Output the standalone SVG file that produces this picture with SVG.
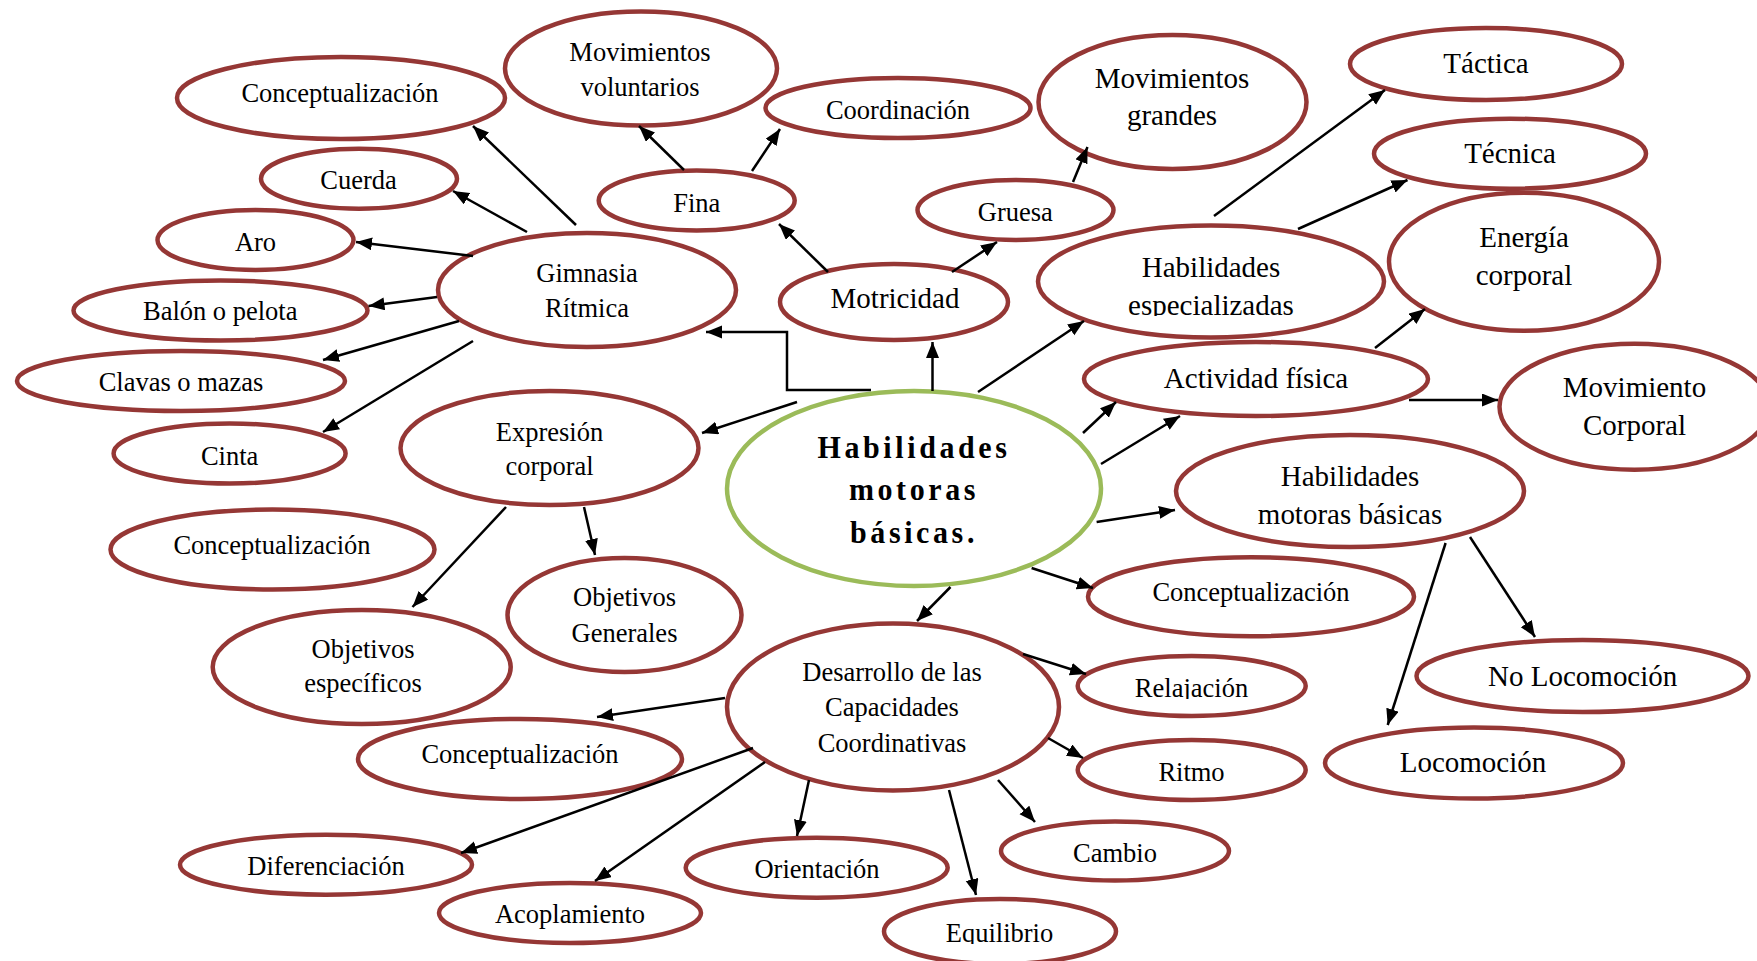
<svg xmlns="http://www.w3.org/2000/svg" width="1757" height="961" viewBox="0 0 1757 961">
  <style>
    .node { fill: #ffffff; stroke: #953735; stroke-width: 4.5; }
    .core { fill: #ffffff; stroke: #9bbb59; stroke-width: 4.5; }
    .t { font-family: "Liberation Serif", "Times New Roman", serif; font-size: 26.5px; fill: #000000; text-anchor: middle; }
    .big { font-size: 29px; }
    .bold { font-weight: bold; font-size: 30px; letter-spacing: 3.6px; }
    .edge { fill: none; stroke: #000000; stroke-width: 2.5; marker-end: url(#arrow); }
  </style>
  <defs>
    <marker id="arrow" markerUnits="userSpaceOnUse" markerWidth="17" markerHeight="14" refX="16" refY="6.5" orient="auto">
      <path d="M0,0 L16,6.5 L0,13 Z" fill="#000000"/>
    </marker>
    <!-- text boxes that cut off the descenders of their last line -->
    <clipPath id="clip-esp" clipPathUnits="userSpaceOnUse"><rect x="1040" y="220" width="345" height="96"/></clipPath>
    <clipPath id="clip-rel" clipPathUnits="userSpaceOnUse"><rect x="1075" y="650" width="235" height="49"/></clipPath>
    <clipPath id="clip-equ" clipPathUnits="userSpaceOnUse"><rect x="882" y="895" width="236" height="49"/></clipPath>
  </defs>
  <rect width="1757" height="961" fill="#ffffff"/>

  <!-- each label is placed at its baseline and drawn slightly tall -->
  <g id="n-concept-1"><ellipse class="node" cx="341" cy="98" rx="164" ry="41"/><text class="t" transform="translate(340 102) scale(1 1.05)">Conceptualización</text></g>
  <g id="n-mov-voluntarios"><ellipse class="node" cx="641" cy="68.5" rx="136" ry="57"/><text class="t" transform="translate(640 61) scale(1 1.05)">Movimientos</text><text class="t" transform="translate(640 96) scale(1 1.05)">voluntarios</text></g>
  <g id="n-coordinacion"><ellipse class="node" cx="898" cy="108" rx="132.5" ry="30"/><text class="t" transform="translate(898 119) scale(1 1.05)">Coordinación</text></g>
  <g id="n-mov-grandes"><ellipse class="node" cx="1172.5" cy="102" rx="134" ry="67"/><text class="t big" transform="translate(1172 88) scale(1 1.05)">Movimientos</text><text class="t big" transform="translate(1172 125) scale(1 1.05)">grandes</text></g>
  <g id="n-tactica"><ellipse class="node" cx="1486" cy="64" rx="136" ry="36"/><text class="t big" transform="translate(1486 73) scale(1 1.05)">Táctica</text></g>
  <g id="n-tecnica"><ellipse class="node" cx="1510" cy="153.7" rx="136" ry="35"/><text class="t big" transform="translate(1510 162.7) scale(1 1.05)">Técnica</text></g>
  <g id="n-energia"><ellipse class="node" cx="1524" cy="261.7" rx="135" ry="69"/><text class="t big" transform="translate(1524 246.7) scale(1 1.05)">Energía</text><text class="t big" transform="translate(1524 285) scale(1 1.05)">corporal</text></g>
  <g id="n-cuerda"><ellipse class="node" cx="359" cy="178.7" rx="98" ry="30"/><text class="t" transform="translate(358.5 189.3) scale(1 1.05)">Cuerda</text></g>
  <g id="n-aro"><ellipse class="node" cx="255.5" cy="240" rx="98" ry="30"/><text class="t" transform="translate(255.5 250.7) scale(1 1.05)">Aro</text></g>
  <g id="n-fina"><ellipse class="node" cx="696.7" cy="200.5" rx="98" ry="30"/><text class="t" transform="translate(696.7 211.7) scale(1 1.05)">Fina</text></g>
  <g id="n-gruesa"><ellipse class="node" cx="1015.5" cy="210" rx="98" ry="30"/><text class="t" transform="translate(1015.3 220.7) scale(1 1.05)">Gruesa</text></g>
  <g id="n-gimnasia"><ellipse class="node" cx="587" cy="290" rx="149" ry="57"/><text class="t" transform="translate(587 281.7) scale(1 1.05)">Gimnasia</text><text class="t" transform="translate(587 317.3) scale(1 1.05)">Rítmica</text></g>
  <g id="n-motricidad"><ellipse class="node" cx="894" cy="302" rx="114" ry="38"/><text class="t big" transform="translate(895 308.3) scale(1 1.05)">Motricidad</text></g>
  <g id="n-hab-especializadas"><ellipse class="node" cx="1211" cy="281.5" rx="173" ry="56"/><text class="t big" transform="translate(1211 276.7) scale(1 1.05)">Habilidades</text><g clip-path="url(#clip-esp)"><text class="t big" transform="translate(1211 315) scale(1 1.05)">especializadas</text></g></g>
  <g id="n-balon"><ellipse class="node" cx="220.5" cy="310.5" rx="147" ry="30"/><text class="t" transform="translate(220.2 320) scale(1 1.05)">Balón o pelota</text></g>
  <g id="n-clavas"><ellipse class="node" cx="181" cy="381" rx="164" ry="30"/><text class="t" transform="translate(181 391) scale(1 1.05)">Clavas o mazas</text></g>
  <g id="n-actividad"><ellipse class="node" cx="1256" cy="379" rx="172" ry="37"/><text class="t big" transform="translate(1256 388) scale(1 1.05)">Actividad física</text></g>
  <g id="n-mov-corporal"><ellipse class="node" cx="1634.5" cy="406.7" rx="135" ry="63"/><text class="t big" transform="translate(1634.5 396.7) scale(1 1.05)">Movimiento</text><text class="t big" transform="translate(1634.5 435) scale(1 1.05)">Corporal</text></g>
  <g id="n-cinta"><ellipse class="node" cx="229.6" cy="453.5" rx="116" ry="30"/><text class="t" transform="translate(229.6 465) scale(1 1.05)">Cinta</text></g>
  <g id="n-expresion"><ellipse class="node" cx="549.5" cy="448" rx="149" ry="57"/><text class="t" transform="translate(549.5 441) scale(1 1.05)">Expresión</text><text class="t" transform="translate(549.5 475) scale(1 1.05)">corporal</text></g>
  <g id="n-center"><ellipse class="core" cx="914" cy="488.5" rx="187" ry="97.5"/><text class="t bold" transform="translate(914 458) scale(1 1.05)">Habilidades</text><text class="t bold" transform="translate(914 500) scale(1 1.05)">motoras</text><text class="t bold" transform="translate(914 543) scale(1 1.05)">básicas.</text></g>
  <g id="n-hab-motoras"><ellipse class="node" cx="1350" cy="491" rx="174" ry="56"/><text class="t big" transform="translate(1350 486) scale(1 1.05)">Habilidades</text><text class="t big" transform="translate(1350 524.3) scale(1 1.05)">motoras básicas</text></g>
  <g id="n-concept-2"><ellipse class="node" cx="272.5" cy="549.5" rx="162" ry="40"/><text class="t" transform="translate(272 554) scale(1 1.05)">Conceptualización</text></g>
  <g id="n-obj-generales"><ellipse class="node" cx="624.5" cy="615" rx="117" ry="57"/><text class="t" transform="translate(624.5 606) scale(1 1.05)">Objetivos</text><text class="t" transform="translate(624.5 641.7) scale(1 1.05)">Generales</text></g>
  <g id="n-concept-3"><ellipse class="node" cx="1251" cy="596.7" rx="163" ry="39.5"/><text class="t" transform="translate(1251 600.7) scale(1 1.05)">Conceptualización</text></g>
  <g id="n-obj-especificos"><ellipse class="node" cx="361.7" cy="667" rx="149" ry="57"/><text class="t" transform="translate(363 658.3) scale(1 1.05)">Objetivos</text><text class="t" transform="translate(363 691.7) scale(1 1.05)">específicos</text></g>
  <g id="n-desarrollo"><ellipse class="node" cx="893" cy="707" rx="166" ry="83.5"/><text class="t" transform="translate(892 681) scale(1 1.05)">Desarrollo de las</text><text class="t" transform="translate(892 716) scale(1 1.05)">Capacidades</text><text class="t" transform="translate(892 751.7) scale(1 1.05)">Coordinativas</text></g>
  <g id="n-relajacion"><ellipse class="node" cx="1191.7" cy="686" rx="114" ry="30"/><g clip-path="url(#clip-rel)"><text class="t" transform="translate(1191.5 696.7) scale(1 1.05)">Relajación</text></g></g>
  <g id="n-no-locomocion"><ellipse class="node" cx="1582.5" cy="676" rx="166" ry="36"/><text class="t big" transform="translate(1582.7 685.7) scale(1 1.05)">No Locomoción</text></g>
  <g id="n-concept-4"><ellipse class="node" cx="520" cy="759" rx="162" ry="40"/><text class="t" transform="translate(520 763.3) scale(1 1.05)">Conceptualización</text></g>
  <g id="n-ritmo"><ellipse class="node" cx="1191.7" cy="770" rx="114" ry="30"/><text class="t" transform="translate(1191.5 781) scale(1 1.05)">Ritmo</text></g>
  <g id="n-locomocion"><ellipse class="node" cx="1474" cy="763" rx="149" ry="35.5"/><text class="t big" transform="translate(1473 772.3) scale(1 1.05)">Locomoción</text></g>
  <g id="n-cambio"><ellipse class="node" cx="1115" cy="851" rx="114" ry="29.5"/><text class="t" transform="translate(1115 861.7) scale(1 1.05)">Cambio</text></g>
  <g id="n-diferenciacion"><ellipse class="node" cx="326" cy="864.7" rx="146" ry="30"/><text class="t" transform="translate(326 875) scale(1 1.05)">Diferenciación</text></g>
  <g id="n-orientacion"><ellipse class="node" cx="816.7" cy="867.7" rx="131" ry="30"/><text class="t" transform="translate(817 878.3) scale(1 1.05)">Orientación</text></g>
  <g id="n-acoplamiento"><ellipse class="node" cx="570" cy="913" rx="131" ry="30"/><text class="t" transform="translate(570 923.3) scale(1 1.05)">Acoplamiento</text></g>
  <g id="n-equilibrio"><ellipse class="node" cx="1000" cy="931.5" rx="116" ry="32.5"/><g clip-path="url(#clip-equ)"><text class="t" transform="translate(999.5 941.7) scale(1 1.05)">Equilibrio</text></g></g>

  <g id="connectors">
    <line class="edge" x1="576" y1="225" x2="473" y2="126"/>
    <line class="edge" x1="527" y1="232" x2="453" y2="191"/>
    <line class="edge" x1="473" y1="256" x2="356" y2="242"/>
    <line class="edge" x1="437" y1="297" x2="368.5" y2="306"/>
    <line class="edge" x1="459" y1="321" x2="323" y2="360"/>
    <line class="edge" x1="473" y1="341" x2="323" y2="432"/>
    <line class="edge" x1="684" y1="170" x2="639" y2="126"/>
    <line class="edge" x1="752" y1="171" x2="780" y2="129"/>
    <line class="edge" x1="828" y1="272" x2="779" y2="224"/>
    <line class="edge" x1="952" y1="272" x2="997" y2="242"/>
    <line class="edge" x1="1073" y1="182" x2="1087.5" y2="147"/>
    <polyline class="edge" points="871,390 787,390 787,332 706,332"/>
    <line class="edge" x1="932.5" y1="391" x2="932.5" y2="342"/>
    <line class="edge" x1="978" y1="392" x2="1084" y2="321"/>
    <line class="edge" x1="797" y1="402" x2="702" y2="433"/>
    <line class="edge" x1="1083" y1="433" x2="1116" y2="402"/>
    <line class="edge" x1="1101" y1="464" x2="1180" y2="416"/>
    <line class="edge" x1="1409" y1="400" x2="1498" y2="400"/>
    <line class="edge" x1="1214" y1="216" x2="1385" y2="90"/>
    <line class="edge" x1="1298" y1="229" x2="1407.5" y2="180"/>
    <line class="edge" x1="1375" y1="348" x2="1425" y2="309"/>
    <line class="edge" x1="506" y1="507" x2="412.5" y2="607"/>
    <line class="edge" x1="584" y1="507" x2="595" y2="555"/>
    <line class="edge" x1="1096.6" y1="522" x2="1175" y2="510"/>
    <line class="edge" x1="1031.6" y1="568" x2="1093" y2="588"/>
    <line class="edge" x1="950.5" y1="587" x2="917" y2="621"/>
    <line class="edge" x1="1023" y1="654" x2="1086" y2="674"/>
    <line class="edge" x1="1048" y1="738" x2="1083" y2="758"/>
    <line class="edge" x1="998" y1="780" x2="1035" y2="822"/>
    <line class="edge" x1="949" y1="790" x2="976" y2="895"/>
    <line class="edge" x1="809" y1="780" x2="797" y2="836"/>
    <line class="edge" x1="765" y1="762" x2="595" y2="881"/>
    <line class="edge" x1="753" y1="748" x2="461" y2="853"/>
    <line class="edge" x1="725" y1="698" x2="597" y2="717"/>
    <line class="edge" x1="1445.6" y1="543" x2="1387.7" y2="725"/>
    <line class="edge" x1="1470" y1="537" x2="1535" y2="637"/>
  </g>
</svg>
